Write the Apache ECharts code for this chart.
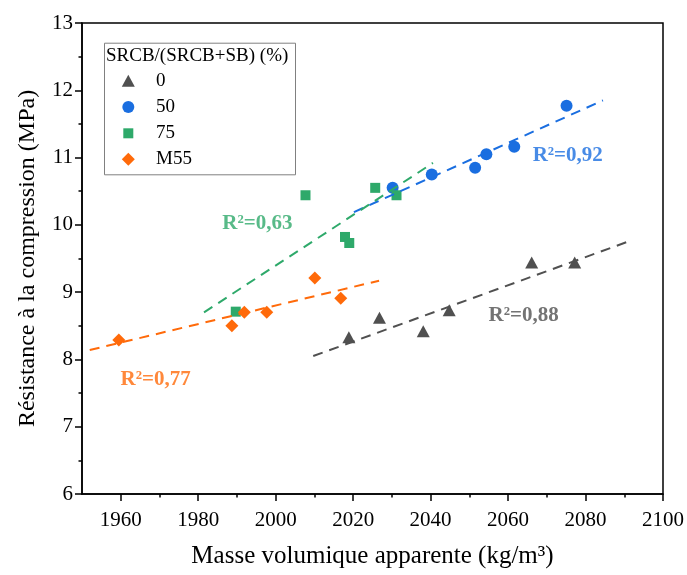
<!DOCTYPE html>
<html>
<head>
<meta charset="utf-8">
<script src="https://cdn.jsdelivr.net/npm/echarts@6/dist/echarts.min.js"></script>
<style>html,body{margin:0;padding:0;background:#fff}#c{width:687px;height:575px}</style>
</head>
<body>
<div id="c"></div>
<script>
// ---- data ----
const seriesNames = ['0', '50', '75', 'M55'];
const d0x = [2018.9, 2026.8, 2038.1, 2044.8, 2066.1, 2077.2];
const d0y = [8.33, 8.62, 8.42, 8.73, 9.44, 9.44];
const d50x = [2030.2, 2040.3, 2051.5, 2054.4, 2061.6, 2075.1];
const d50y = [10.55, 10.75, 10.85, 11.05, 11.16, 11.77];
const d75x = [1989.7, 2007.7, 2017.9, 2019.0, 2025.7, 2031.2];
const d75y = [8.71, 10.44, 9.82, 9.73, 10.55, 10.44];
const dM55x = [1959.5, 1988.7, 1991.9, 1997.7, 2010.1, 2016.8];
const dM55y = [8.29, 8.50, 8.70, 8.70, 9.21, 8.91];

// trend line end points
const fit0x = [2009.7, 2091.9], fit0y = [8.05, 9.77];
const fit50x = [2020.2, 2084.5], fit50y = [10.19, 11.85];
const fit75x = [1981.5, 2040.6], fit75y = [8.70, 10.92];
const fitM55x = [1952.0, 2026.7], fitM55y = [8.14, 9.17];

// R² annotations
const r2Text = ['R²=0,88', 'R²=0,92', 'R²=0,63', 'R²=0,77'];
const r2x = [2064.0, 2075.4, 1995.3, 1969.0];
const r2y = [8.65, 11.03, 10.02, 7.70];

// ticks
const xMajorTicks = [1960, 1980, 2000, 2020, 2040, 2060, 2080, 2100];
const xMinorTicks = [1970, 1990, 2010, 2030, 2050, 2070, 2090];

const legendTitle = 'SRCB/(SRCB+SB) (%)';
const xTitle = 'Masse volumique apparente (kg/m³)';
const yTitle = 'Résistance à la compression (MPa)';

// ---- styles ----
const FONT = 'Liberation Serif';
const colors = ['#505050', '#1a6ee0', '#2ea96a', '#ff6a0a'];
const symbols = ['triangle', 'circle', 'rect', 'diamond'];
const sizes = [[13, 12], [12, 12], [10, 10], [13, 13]];

const zip = (xs, ys) => xs.map((x, i) => [x, ys[i]]);
const pts = [zip(d0x, d0y), zip(d50x, d50y), zip(d75x, d75y), zip(dM55x, dM55y)];
const fits = [zip(fit0x, fit0y), zip(fit50x, fit50y), zip(fit75x, fit75y), zip(fitM55x, fitM55y)];

const chart = echarts.init(document.getElementById('c'), null, {renderer: 'canvas'});

const series = [];
seriesNames.forEach((n, i) => {
  series.push({
    name: n, type: 'scatter', data: pts[i], symbol: symbols[i], symbolSize: sizes[i],
    itemStyle: {color: colors[i], opacity: 1}, z: 3
  });
});
seriesNames.forEach((n, i) => {
  series.push({
    name: 'fit' + n, type: 'line', data: fits[i], showSymbol: false, symbol: 'none',
    lineStyle: {color: colors[i], width: 2, type: [10, 7]}, z: 4, silent: true
  });
});
series.push({
  name: 'r2', type: 'scatter', symbolSize: 0.01, silent: true, z: 5,
  itemStyle: {color: 'rgba(0,0,0,0)'},
  data: r2Text.map((t, i) => ({
    value: [r2x[i], r2y[i]],
    label: {show: true, position: 'inside', formatter: t, color: colors[i],
      fontFamily: FONT, fontWeight: 'bold', fontSize: 21}
  }))
});

const rowCenters = [80.7, 107, 133.3, 159.3];
const legends = seriesNames.map((n, i) => {
  const w = sizes[i][0], h = sizes[i][1];
  const left = 128.3 - w / 2;
  return {
    data: [{name: n, icon: symbols[i]}],
    left: left, top: rowCenters[i] - 9.5, padding: 0, z: 20,
    itemWidth: w, itemHeight: h, selectedMode: false,
    textStyle: {fontFamily: FONT, fontSize: 19, color: '#000', lineHeight: 19,
      padding: [0, 0, 0, 156 - (left + w + 5)]}
  };
});

chart.setOption({
  animation: false,
  backgroundColor: '#fff',
  textStyle: {fontFamily: FONT},
  grid: {left: 82, right: 24, top: 23, bottom: 81, show: true, borderColor: '#000', borderWidth: 1.5, backgroundColor: 'transparent'},
  legend: legends,
  graphic: [
    {type: 'rect', left: 102, top: 40.7, shape: {width: 191, height: 131.6}, style: {fill: 'none', stroke: '#808080', lineWidth: 1}, z: 1},
    {type: 'text', left: 106, top: 47, style: {text: legendTitle, font: '19px "Liberation Serif"', fill: '#000'}, z: 11}
  ],
  xAxis: [{
    type: 'value', min: 1950, max: 2100, interval: 10,
    name: xTitle, nameLocation: 'middle', nameGap: 50,
    nameTextStyle: {fontFamily: FONT, fontSize: 25, color: '#000'},
    axisLine: {show: true, onZero: false, lineStyle: {color: '#000', width: 1.5}},
    axisTick: {show: true, length: 7, customValues: xMajorTicks, lineStyle: {color: '#000', width: 1.5}},
    axisLabel: {customValues: xMajorTicks, margin: 16, fontFamily: FONT, fontSize: 21, color: '#000',
      formatter: v => String(v)},
    splitLine: {show: false}
  }, {
    type: 'value', min: 1950, max: 2100, interval: 10, position: 'bottom',
    axisLine: {show: false},
    axisTick: {show: true, length: 3.5, customValues: xMinorTicks, lineStyle: {color: '#000', width: 1.5}},
    axisLabel: {show: false},
    splitLine: {show: false}
  }],
  yAxis: {
    type: 'value', min: 6, max: 13, interval: 1,
    name: yTitle, nameLocation: 'middle', nameGap: 42,
    nameTextStyle: {fontFamily: FONT, fontSize: 24, color: '#000'},
    axisLine: {show: true, onZero: false, lineStyle: {color: '#000', width: 1.5}},
    axisTick: {show: true, length: 7, lineStyle: {color: '#000', width: 1.5}},
    minorTick: {show: true, splitNumber: 2, length: 3.5, lineStyle: {color: '#000', width: 1.5}},
    axisLabel: {margin: 9, fontFamily: FONT, fontSize: 21, color: '#000'},
    splitLine: {show: false}, minorSplitLine: {show: false}
  },
  series: series
});
</script>
</body>
</html>
